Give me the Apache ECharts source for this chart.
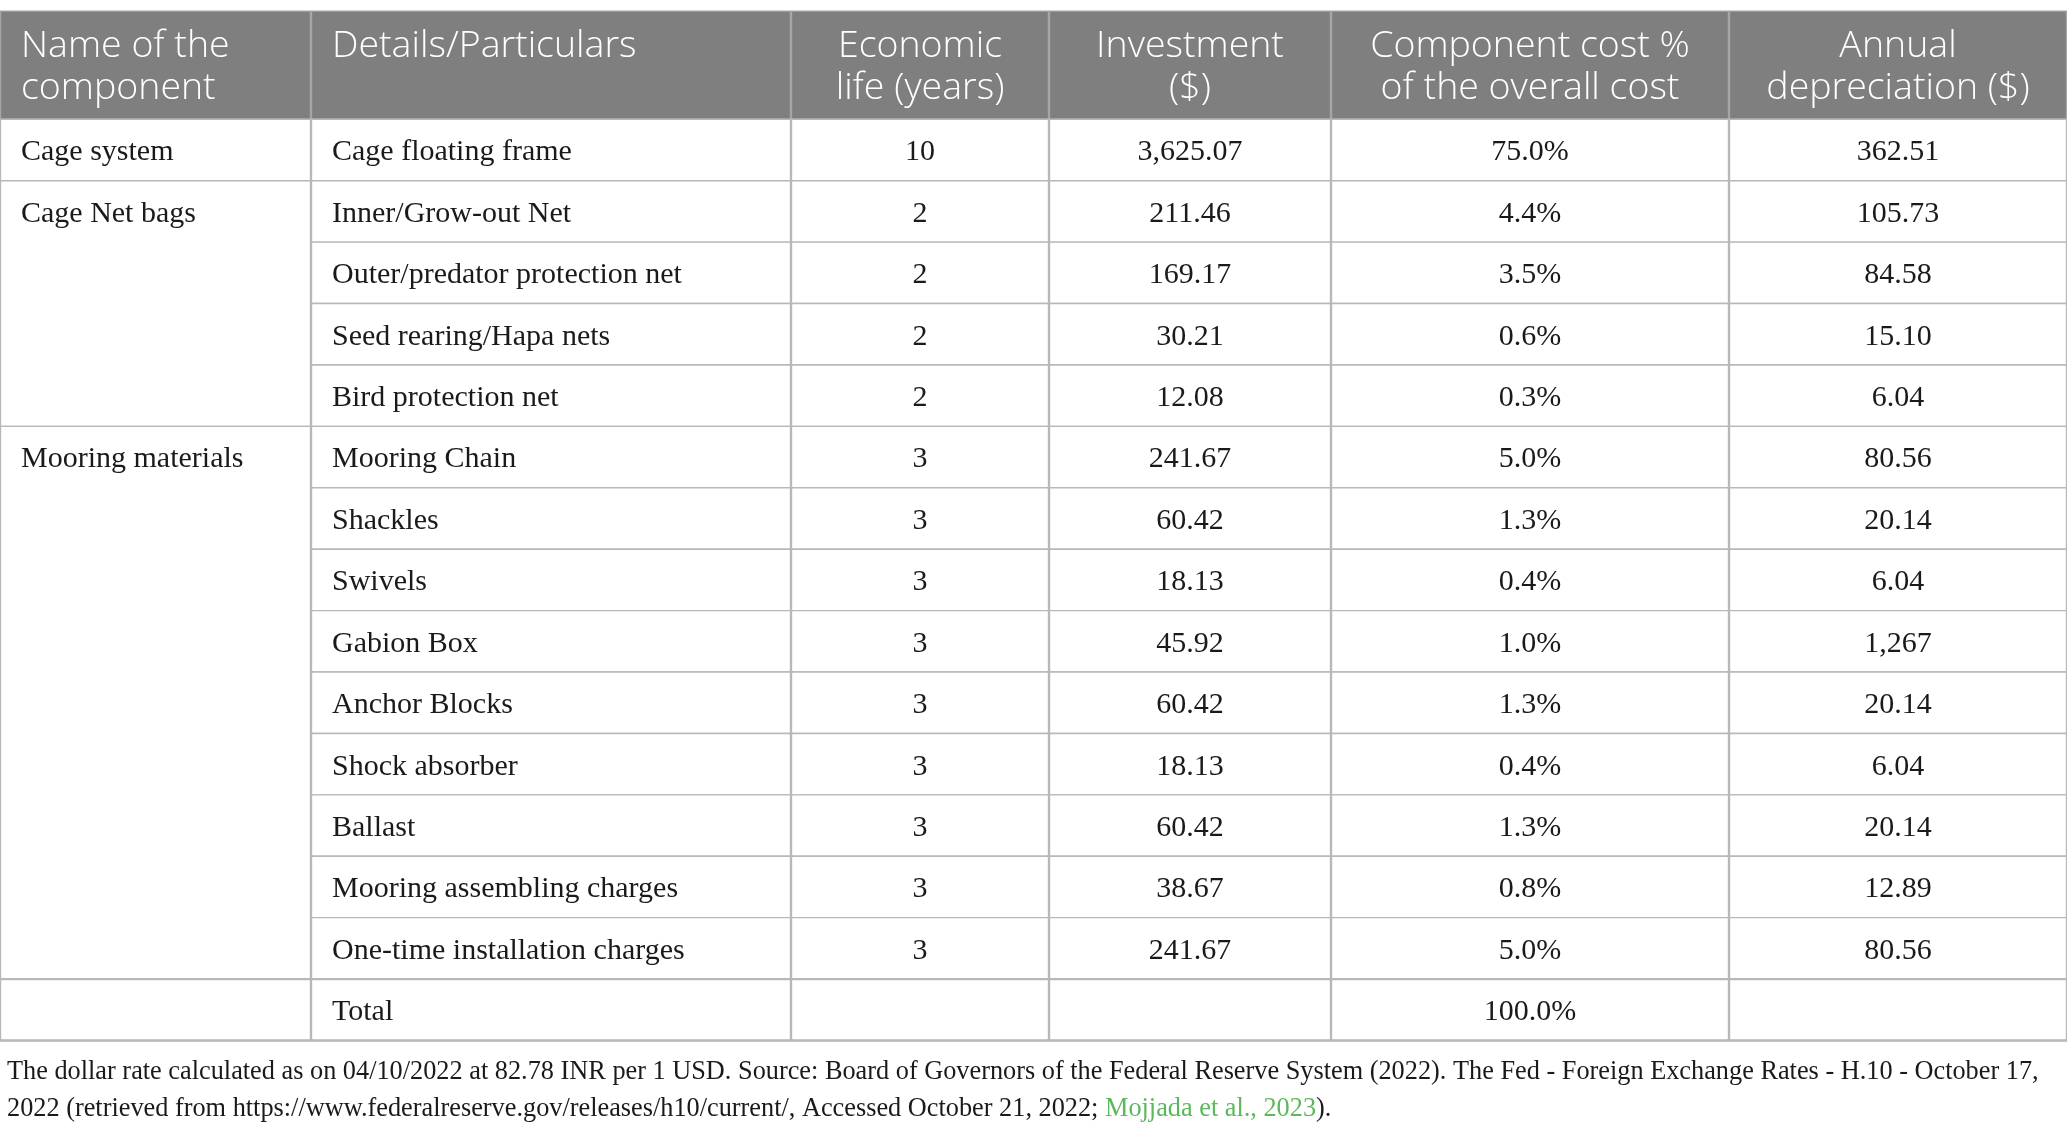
<!DOCTYPE html>
<html>
<head>
<meta charset="utf-8">
<script src="https://cdn.jsdelivr.net/npm/echarts@6/dist/echarts.min.js"></script>
<style>
html,body{margin:0;padding:0;background:#fff;}
#chart{width:2067px;height:1133px;}
</style>
</head>
<body>
<div id="chart"></div>
<script>
// ---- data ----
const headers = ['Name of the\ncomponent', 'Details/Particulars', 'Economic\nlife (years)', 'Investment\n($)', 'Component cost %\nof the overall cost', 'Annual\ndepreciation ($)'];
const components = ['Cage system', 'Cage Net bags', 'Cage Net bags', 'Cage Net bags', 'Cage Net bags',
  'Mooring materials', 'Mooring materials', 'Mooring materials', 'Mooring materials', 'Mooring materials',
  'Mooring materials', 'Mooring materials', 'Mooring materials', 'Mooring materials', ''];
const particulars = ['Cage floating frame', 'Inner/Grow-out Net', 'Outer/predator protection net', 'Seed rearing/Hapa nets',
  'Bird protection net', 'Mooring Chain', 'Shackles', 'Swivels', 'Gabion Box', 'Anchor Blocks', 'Shock absorber',
  'Ballast', 'Mooring assembling charges', 'One-time installation charges', 'Total'];
const economicLife = ['10', '2', '2', '2', '2', '3', '3', '3', '3', '3', '3', '3', '3', '3', ''];
const investment = ['3,625.07', '211.46', '169.17', '30.21', '12.08', '241.67', '60.42', '18.13', '45.92', '60.42', '18.13', '60.42', '38.67', '241.67', ''];
const costShare = ['75.0%', '4.4%', '3.5%', '0.6%', '0.3%', '5.0%', '1.3%', '0.4%', '1.0%', '1.3%', '0.4%', '1.3%', '0.8%', '5.0%', '100.0%'];
const depreciation = ['362.51', '105.73', '84.58', '15.10', '6.04', '80.56', '20.14', '6.04', '1,267', '20.14', '6.04', '20.14', '12.89', '80.56', ''];
const footnote = 'The dollar rate calculated as on 04/10/2022 at 82.78 INR per 1 USD. Source: Board of Governors of the Federal Reserve System (2022). The Fed - Foreign Exchange Rates - H.10 - October 17,\n2022 (retrieved from https://www.federalreserve.gov/releases/h10/current/, Accessed October 21, 2022; ';
const footnoteLink = 'Mojjada et al., 2023';
const footnoteEnd = ').';

// ---- layout (not data) ----
const colWidths = [311, 480, 258, 282, 398, 338];
const colAlign = ['left', 'left', 'center', 'center', 'center', 'center'];
const headerUnits = 1.762;
const padX = 21;
const headFont = '300 37.5px "Open Sans"';
const bodyFont = '30px "Liberation Serif"';
const gridColor = '#b8b8b8';
const headBg = '#7f7f7f';
const headLine = '#a6a6a6';

const colStart = [0];
colWidths.forEach((w, i) => colStart.push(colStart[i] + w));
const totalW = colStart[colStart.length - 1];
const nRows = particulars.length;

// build cells: [col, rowStart, span, text, kind]
const cells = [];
headers.forEach((h, c) => cells.push([c, -headerUnits, headerUnits, h, 'head']));
const columns = [null, particulars, economicLife, investment, costShare, depreciation];
let r = 0;
while (r < nRows) {
  let s = 1;
  while (r + s < nRows && components[r + s] === components[r]) s++;
  cells.push([0, r, s, components[r], 'body']);
  r += s;
}
for (let c = 1; c < columns.length; c++) {
  columns[c].forEach((t, i) => cells.push([c, i, 1, t, 'body']));
}
// heavier rules around the total row
const heavyLines = [[nRows - 1], [nRows]];

const chart = echarts.init(document.getElementById('chart'), null, {renderer: 'canvas'});
chart.setOption({
  animation: false,
  backgroundColor: '#fff',
  title: {
    left: 2, top: 1049,
    text: footnote + '{g|' + footnoteLink + '}' + footnoteEnd,
    textStyle: {
      fontFamily: 'Liberation Serif', fontSize: 26.3, fontWeight: 'normal', color: '#1a1a1a', lineHeight: 37,
      rich: {g: {color: '#5cb85c', fontFamily: 'Liberation Serif', fontSize: 26.3, lineHeight: 37}}
    }
  },
  grid: {left: 0, right: 0, top: 10.6, bottom: 93},
  xAxis: {type: 'value', min: 0, max: totalW, show: false},
  yAxis: {type: 'value', min: -headerUnits, max: nRows, inverse: true, show: false},
  series: [{
    type: 'custom',
    coordinateSystem: 'cartesian2d',
    data: cells,
    renderItem: function (params, api) {
      const c = api.value(0), r0 = api.value(1), span = api.value(2);
      const cell = cells[params.dataIndex];
      const text = cell[3], kind = cell[4];
      const p0 = api.coord([colStart[c], r0]);
      const p1 = api.coord([colStart[c + 1], r0 + span]);
      const x = p0[0], y = p0[1], w = p1[0] - p0[0], h = p1[1] - p0[1];
      const head = kind === 'head';
      const rowH = api.size([0, 1])[1];
      const align = colAlign[c];
      const tx = align === 'left' ? x + padX : x + w / 2;
      const ty = head ? y + 15 : y + rowH / 2 + 3;
      return {
        type: 'group',
        children: [
          {type: 'rect', shape: {x: x + 0.5, y: y + 0.5, width: w - 1, height: h},
            style: {fill: head ? headBg : '#fff', stroke: head ? headLine : gridColor, lineWidth: 1.4}},
          {type: 'text', style: {
            text: text, x: tx, y: ty, align: align,
            verticalAlign: head ? 'top' : 'middle',
            font: head ? headFont : bodyFont,
            lineHeight: head ? 42 : 32,
            fill: head ? '#ffffff' : '#1a1a1a'
          }}
        ]
      };
    },
    z: 2
  }, {
    type: 'custom',
    coordinateSystem: 'cartesian2d',
    data: heavyLines,
    renderItem: function (params, api) {
      const yv = api.value(0);
      const a = api.coord([0, yv]);
      const b = api.coord([totalW, yv]);
      return {type: 'line', shape: {x1: a[0], y1: a[1] + 0.5, x2: b[0], y2: b[1] + 0.5}, style: {stroke: gridColor, lineWidth: 2.4}};
    },
    z: 3
  }]
});
</script>
</body>
</html>
